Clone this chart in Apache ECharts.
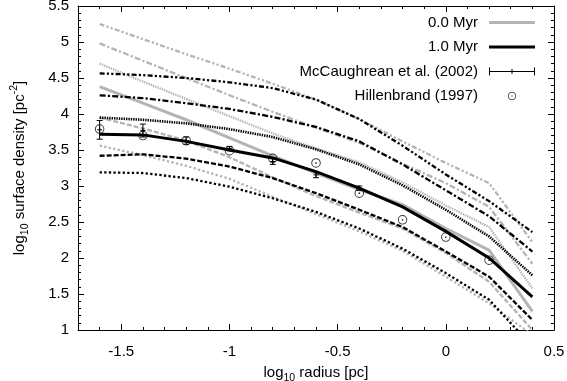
<!DOCTYPE html>
<html>
<head>
<meta charset="utf-8">
<script src="https://cdn.jsdelivr.net/npm/echarts@6/dist/echarts.min.js"></script>
<style>
html,body{margin:0;padding:0;background:#fff;}
#chart{width:567px;height:381px;}
</style>
</head>
<body>
<div id="chart"></div>
<script>
// ---------------- data ----------------
const radius = [-1.6, -1.4, -1.2, -1.0, -0.8, -0.6, -0.4, -0.2, 0.0, 0.2, 0.4];

// 1.0 Myr family (black)
const myr1Solid      = [3.72, 3.71, 3.62, 3.50, 3.39, 3.20, 2.97, 2.71, 2.37, 2.00, 1.46];
const myr1Dotted     = [3.19, 3.18, 3.11, 2.99, 2.83, 2.64, 2.41, 2.13, 1.79, 1.42, 0.77];
const myr1Dashed     = [3.42, 3.44, 3.38, 3.27, 3.11, 2.90, 2.67, 2.43, 2.09, 1.74, 1.14];
const myr1FineDotted = [3.95, 3.92, 3.87, 3.79, 3.68, 3.51, 3.30, 3.01, 2.67, 2.30, 1.76];
const myr1DashDot    = [4.26, 4.22, 4.15, 4.07, 3.96, 3.82, 3.62, 3.30, 2.94, 2.58, 2.09];
const myr1DashDotDot = [4.565, 4.54, 4.50, 4.44, 4.36, 4.20, 3.93, 3.56, 3.16, 2.79, 2.36];

// 0.0 Myr family (gray)
const myr0Solid      = [4.38, 4.15, 3.92, 3.67, 3.42, 3.18, 2.95, 2.74, 2.41, 2.11, 1.26];
const myr0Dotted     = [3.56, 3.43, 3.28, 3.10, 2.85, 2.61, 2.37, 2.10, 1.74, 1.37, 0.93];
const myr0Dashed     = [3.95, 3.80, 3.63, 3.40, 3.12, 2.86, 2.63, 2.41, 2.07, 1.67, 1.00];
const myr0FineDotted = [4.70, 4.45, 4.21, 3.97, 3.73, 3.52, 3.33, 3.05, 2.73, 2.43, 1.58];
const myr0DashDot    = [4.98, 4.74, 4.50, 4.26, 4.03, 3.81, 3.60, 3.31, 3.04, 2.71, 1.92];
const myr0DashDotDot = [5.25, 5.04, 4.83, 4.63, 4.42, 4.20, 3.93, 3.62, 3.32, 3.04, 2.22];

// McCaughrean et al. (2002)
const mcX   = [-1.6, -1.4, -1.2, -1.0, -0.8, -0.6, -0.4];
const mcY   = [3.78, 3.77, 3.63, 3.52, 3.34, 3.155, 2.97];
const mcErr = [0.13, 0.09, 0.05, 0.03, 0.04, 0.04, 0.03];

// Hillenbrand (1997)
const hiX = [-1.6, -1.4, -1.2, -1.0, -0.8, -0.6, -0.4, -0.2, 0.0, 0.2];
const hiY = [3.79, 3.70, 3.63, 3.49, 3.385, 3.32, 2.90, 2.53, 2.29, 1.97];

// axis settings
const xMin = -1.7, xMax = 0.5;
const yMin = 1, yMax = 5.5, yStep = 0.5;

// ---------------- chart ----------------
const FONT = '"Liberation Sans", Arial, Helvetica, sans-serif';
const FS = 15;
const BLACK = '#000000';
const GRAY = '#b4b4b4';

const pair = arr => radius.map((x, i) => [x, arr[i]]);

function lineSeries(name, arr, color, width, type, z) {
  return {
    name: name, type: 'line', data: pair(arr),
    symbol: 'none', showSymbol: false, silent: true, animation: false,
    color: color, itemStyle: {color: color},
    lineStyle: {color: color, width: width, type: type, cap: 'butt', join: 'miter'},
    z: z, clip: true
  };
}

const ringPath = 'M10,0A10,10,0,1,1,10,20A10,10,0,1,1,10,0Z' +
  'M10,2A8,8,0,1,0,10,18A8,8,0,1,0,10,2Z' +
  'M10,8.2A1.8,1.8,0,1,1,10,11.8A1.8,1.8,0,1,1,10,8.2Z';
const ringLegend = 'path://M-47.5,-7.5L-47.45,-7.5L-47.5,-7.45Z M67.5,27.5L67.45,27.5L67.5,27.45Z ' + ringPath;
const errLegend = 'path://M0,6.5H46V7.5H0Z M0,3H1V11H0Z M45,3H46V11H45Z M22.5,4.5H23.5V9.5H22.5Z';
const thickLine = 'path://M0,0H46V3H0Z';

const axisCommon = {
  type: 'value',
  axisLine: {show: true, onZero: false, lineStyle: {color: BLACK, width: 1}},
  axisTick: {show: true, inside: true, length: 6, lineStyle: {color: BLACK, width: 1}},
  minorTick: {show: true, splitNumber: 5, length: 3, lineStyle: {color: BLACK, width: 1}},
  splitLine: {show: false},
  minorSplitLine: {show: false}
};

const W = 2.3;
const DOT = [2.3, 2.3];
const DASH = [5, 2];
const FINE = [1.4, 1];
const DASHDOT = [6, 2.2, 2.2, 2.2];
const DASHDOTDOT = [5, 2.2, 2.2, 2.2, 2.2, 2.2];

const option = {
  backgroundColor: '#ffffff',
  animation: false,
  grid: {left: 78, right: 13, top: 6, bottom: 51, containLabel: false, outerBoundsMode: 'none'},
  legend: {
    show: true,
    orient: 'vertical',
    right: 32, top: 15, padding: 0,
    align: 'right',
    itemWidth: 46, itemHeight: 14, itemGap: 9.5,
    selectedMode: false,
    itemStyle: {borderWidth: 0},
    textStyle: {fontFamily: FONT, fontSize: FS, color: BLACK, padding: [0, 6, 0, 0]},
    data: [
      {name: '0.0 Myr', icon: thickLine, itemStyle: {color: GRAY, borderWidth: 0}},
      {name: '1.0 Myr', icon: thickLine, itemStyle: {color: BLACK, borderWidth: 0}},
      {name: 'McCaughrean et al. (2002)', icon: errLegend, itemStyle: {color: BLACK, borderWidth: 0}},
      {name: 'Hillenbrand (1997)', icon: ringLegend, itemStyle: {color: BLACK, borderWidth: 0}}
    ]
  },
  xAxis: [
    Object.assign({}, axisCommon, {
      min: xMin, max: xMax, position: 'bottom',
      axisLabel: {show: true, showMinLabel: false, color: BLACK, fontFamily: FONT, fontSize: FS, margin: 14},
      name: '{n|log}{s|10}{n| radius [pc]}',
      nameLocation: 'middle', nameGap: 32,
      nameTextStyle: {
        fontFamily: FONT, fontSize: FS, color: BLACK,
        rich: {
          n: {fontFamily: FONT, fontSize: FS, color: BLACK, lineHeight: 22},
          s: {fontFamily: FONT, fontSize: 10.5, color: BLACK, verticalAlign: 'bottom'}
        }
      }
    }),
    Object.assign({}, axisCommon, {
      min: xMin, max: xMax, position: 'top',
      axisLabel: {show: false}
    })
  ],
  yAxis: [
    Object.assign({}, axisCommon, {
      min: yMin, max: yMax, interval: yStep, position: 'left',
      axisLabel: {show: true, color: BLACK, fontFamily: FONT, fontSize: FS, margin: 9},
      name: '{n|log}{s|10}{n| surface density [pc}{p|-2}{n|]}',
      nameLocation: 'middle', nameGap: 47, nameRotate: 90,
      nameTextStyle: {
        fontFamily: FONT, fontSize: FS, color: BLACK,
        rich: {
          n: {fontFamily: FONT, fontSize: FS, color: BLACK, lineHeight: 22},
          s: {fontFamily: FONT, fontSize: 10.5, color: BLACK, verticalAlign: 'bottom'},
          p: {fontFamily: FONT, fontSize: 10.5, color: BLACK, verticalAlign: 'top'}
        }
      }
    }),
    Object.assign({}, axisCommon, {
      min: yMin, max: yMax, interval: yStep, position: 'right',
      axisLabel: {show: false}
    })
  ],
  series: [
    lineSeries('g-dotted', myr0Dotted, GRAY, W, DOT, 2),
    lineSeries('g-dashed', myr0Dashed, GRAY, W, DASH, 2),
    lineSeries('g-fine', myr0FineDotted, GRAY, W, FINE, 2),
    lineSeries('g-dashdot', myr0DashDot, GRAY, W, DASHDOT, 2),
    lineSeries('g-dashdotdot', myr0DashDotDot, GRAY, W, DASHDOTDOT, 2),
    lineSeries('0.0 Myr', myr0Solid, GRAY, 3, 'solid', 3),
    lineSeries('b-dotted', myr1Dotted, BLACK, W, DOT, 4),
    lineSeries('b-dashed', myr1Dashed, BLACK, W, DASH, 4),
    lineSeries('b-fine', myr1FineDotted, BLACK, 2.6, FINE, 4),
    lineSeries('b-dashdot', myr1DashDot, BLACK, W, DASHDOT, 4),
    lineSeries('b-dashdotdot', myr1DashDotDot, BLACK, W, DASHDOTDOT, 4),
    lineSeries('1.0 Myr', myr1Solid, BLACK, 3, 'solid', 5),
    {
      name: 'McCaughrean et al. (2002)', type: 'custom', silent: true, z: 6,
      color: BLACK, itemStyle: {color: BLACK},
      data: mcX.map((x, i) => [x, mcY[i], mcErr[i]]),
      encode: {x: 0, y: 1},
      renderItem: function (params, api) {
        const x = api.value(0), y = api.value(1), e = api.value(2);
        const t = api.coord([x, y + e]);
        const b = api.coord([x, y - e]);
        const c = api.coord([x, y]);
        const cap = 3, p = 2.5;
        const st = {stroke: BLACK, lineWidth: 1, fill: null};
        return {
          type: 'group',
          children: [
            {type: 'line', shape: {x1: t[0], y1: t[1], x2: b[0], y2: b[1]}, style: st},
            {type: 'line', shape: {x1: t[0] - cap, y1: t[1], x2: t[0] + cap, y2: t[1]}, style: st},
            {type: 'line', shape: {x1: b[0] - cap, y1: b[1], x2: b[0] + cap, y2: b[1]}, style: st},
            {type: 'line', shape: {x1: c[0] - p, y1: c[1], x2: c[0] + p, y2: c[1]}, style: st},
            {type: 'line', shape: {x1: c[0], y1: c[1] - p, x2: c[0], y2: c[1] + p}, style: st}
          ]
        };
      }
    },
    {
      name: 'Hillenbrand (1997)', type: 'scatter', silent: true, z: 7,
      symbol: 'path://' + ringPath, symbolSize: 9.5, symbolKeepAspect: true,
      color: BLACK, itemStyle: {color: BLACK, borderWidth: 0},
      data: hiX.map((x, i) => [x, hiY[i]])
    }
  ]
};

const chart = echarts.init(document.getElementById('chart'), null, {renderer: 'canvas'});
chart.setOption(option);
</script>
</body>
</html>
